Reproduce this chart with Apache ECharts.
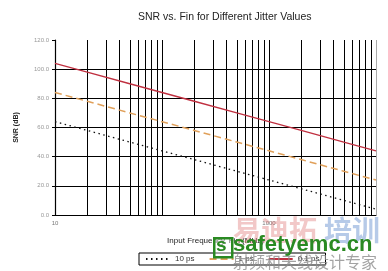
<!DOCTYPE html>
<html><head><meta charset="utf-8">
<script src="https://cdn.jsdelivr.net/npm/echarts@6/dist/echarts.min.js"></script>
<style>html,body{margin:0;padding:0;background:#fff}#c{width:388px;height:271px}</style>
</head><body><div id="c"></div>
<script>
var freqs = [10, 20, 50, 100, 200, 500, 1000, 2000, 5000, 10000];
var snr10ps = [64, 58, 50, 44, 38, 30, 24, 18, 10, 4];
var snr1ps = [84, 78, 70, 64, 58, 50, 44, 38, 30, 24];
var snr01ps = [104, 98, 90, 84, 78, 70, 64, 58, 50, 44];
var seriesNames = ['10 ps', '1 ps', '0.1 ps'];
var xTickLabels = ['10', '1000'];
var gridFreqs = [20,30,40,50,60,70,80,90,100,200,300,400,500,600,700,800,900,1000,2000,3000,4000,5000,6000,7000,8000,9000];

function pairs(ys){ return freqs.map(function(f,i){ return [f, ys[i]]; }); }

var chart = echarts.init(document.getElementById('c'), null, {renderer:'canvas'});
var font = 'Liberation Sans, Arial, sans-serif';
chart.setOption({
  animation: false,
  backgroundColor: '#fff',
  title: {
    text: 'SNR vs. Fin for Different Jitter Values',
    left: 133, top: 7,
    textStyle: {fontSize: 10.5, fontWeight: 'normal', color: '#222', fontFamily: font}
  },
  grid: {left: 55, right: 12, top: 40, bottom: 56},
  legend: {
    data: seriesNames,
    left: 139, top: 253,
    orient: 'horizontal',
    padding: [2, 6, 2, 6],
    borderColor: '#000', borderWidth: 1,
    itemWidth: 24, itemHeight: 8, itemGap: 14,
    itemStyle: {opacity: 0},
    textStyle: {fontSize: 8, color: '#333', fontFamily: font}
  },
  xAxis: {
    type: 'log', logBase: 10, min: 10, max: 10000,
    name: 'Input Frequency, Fin (MHz)', nameLocation: 'middle', nameGap: 22,
    nameTextStyle: {fontSize: 8, color: '#222', fontFamily: font},
    axisLine: {lineStyle: {color: '#000', width: 1}},
    axisTick: {show: false},
    splitLine: {show: false},
    axisLabel: {
      fontSize: 6, color: '#777', fontFamily: font, margin: 5, interval: 0,
      showMinLabel: true, showMaxLabel: true, hideOverlap: false,
      formatter: function(v){
        var s = String(Math.pow(10, Math.round(Math.log(v) / Math.LN10)));
        return xTickLabels.indexOf(s) >= 0 ? s : '';
      }
    }
  },
  yAxis: {
    type: 'value', min: 0, max: 120, interval: 20,
    name: 'SNR (dB)', nameLocation: 'middle', nameGap: 35, nameRotate: 90,
    nameTextStyle: {fontSize: 7, color: '#222', fontFamily: font, fontWeight: 'bold'},
    axisLine: {show: true, lineStyle: {color: '#000', width: 1.2}},
    axisTick: {show: true, length: 3, lineStyle: {color: '#000'}},
    splitLine: {show: true, lineStyle: {color: ['#000','#000','#000','#000','#000','#000','rgba(0,0,0,0)'], width: 1}},
    axisLabel: {fontSize: 6, color: '#999', fontFamily: font, margin: 6,
      formatter: function(v){ return v.toFixed(1); }}
  },
  series: [
    {
      name: seriesNames[0], type: 'line', data: pairs(snr10ps), symbol: 'none', z: 5,
      lineStyle: {color: '#111', width: 1.3, type: [1.5, 3.5]},
      itemStyle: {color: '#111'},
      markLine: {
        silent: true, symbol: 'none', label: {show: false}, animation: false,
        lineStyle: {color: '#000', width: 1, type: 'solid'},
        data: gridFreqs.map(function(f){ return {xAxis: f}; }).concat([{xAxis: 10000, lineStyle: {color: '#aaa', width: 1, type: 'solid'}}])
      }
    },
    {
      name: seriesNames[1], type: 'line', data: pairs(snr1ps), symbol: 'none', z: 5,
      lineStyle: {color: '#e0a05a', width: 1.5, type: [7, 4]},
      itemStyle: {color: '#e0a05a'}
    },
    {
      name: seriesNames[2], type: 'line', data: pairs(snr01ps), symbol: 'none', z: 5,
      lineStyle: {color: '#c03040', width: 1.3, type: 'solid'},
      itemStyle: {color: '#c03040'}
    }
  ],
  graphic: [
    {type: 'text', left: 233, top: 216, z: 100, style: {text: '易迪拓', fill: 'rgba(220,110,110,0.38)', font: 'bold 28px "Noto Sans CJK SC"'}},
    {type: 'text', left: 324, top: 216, z: 100, style: {text: '培训', fill: 'rgba(110,150,210,0.5)', font: 'bold 28px "Noto Sans CJK SC"'}},
    {type: 'rect', left: 213, top: 237, z: 100, shape: {width: 18, height: 19}, style: {fill: 'rgba(255,255,255,0.3)', stroke: '#2a8a22', lineWidth: 2.5}},
    {type: 'text', left: 216, top: 236, z: 101, style: {text: 's', fill: '#2a8a22', font: 'bold 19px "Liberation Sans", Arial, sans-serif'}},
    {type: 'text', left: 233, top: 234, z: 100, style: {text: 'safetyemc.cn', fill: '#2a8a22', font: 'bold 22px "Liberation Sans", Arial, sans-serif'}},
    {type: 'text', left: 233, top: 254, z: 100, style: {text: '射频和天线设计专家', fill: 'rgba(140,140,140,0.8)', font: '16px "Noto Sans CJK SC"'}}
  ]
});
</script></body></html>
